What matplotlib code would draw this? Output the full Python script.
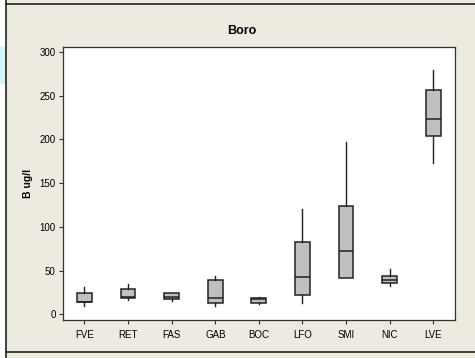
import matplotlib
matplotlib.use("Agg")
import matplotlib.pyplot as plt
from matplotlib.patches import Rectangle
from matplotlib.lines import Line2D

plt.rcParams['font.family'] = ['Liberation Sans', 'DejaVu Sans']

categories = ["FVE", "RET", "FAS", "GAB", "BOC", "LFO", "SMI", "NIC", "LVE"]
whislo = [9.5, 16.0, 14.9, 9.5, 11.4, 13.3, 42.0, 32.3, 173.3]
q1 = [13.7, 19.0, 17.9, 12.6, 12.6, 22.0, 42.0, 35.4, 203.8]
med = [14.5, 20.0, 20.0, 18.3, 17.5, 42.3, 72.3, 39.2, 222.9]
q3 = [24.0, 28.6, 24.0, 39.2, 18.3, 82.3, 123.4, 43.8, 256.0]
whishi = [31.0, 34.6, 24.5, 43.8, 19.4, 120.0, 197.0, 51.4, 279.2]
yticks = [0, 50, 100, 150, 200, 250, 300]

W, H = 475, 358
bg = '#EDEAE0'
fig = plt.figure(figsize=(W / 100, H / 100), dpi=100)
fig.patch.set_facecolor(bg)

# left strip and outer frame
fig.patches.append(Rectangle((0, 0), 6 / W, 1, transform=fig.transFigure,
                             facecolor='white', edgecolor='none'))
fig.patches.append(Rectangle((0, 1 - 84 / H), 6 / W, 38 / H, transform=fig.transFigure,
                             facecolor='#CFF6F8', edgecolor='none'))
fig.lines.append(Line2D([6 / W, 6 / W], [0, 1], transform=fig.transFigure,
                        color='#222222', lw=1.2))
fig.lines.append(Line2D([6 / W, 1], [1 - 4 / H, 1 - 4 / H], transform=fig.transFigure,
                        color='#222222', lw=1.2))
fig.lines.append(Line2D([6 / W, 1], [1 - 352 / H, 1 - 352 / H], transform=fig.transFigure,
                        color='#222222', lw=1.2))

left, right, top, bottom = 62.7, 455, 47.3, 320
ax = fig.add_axes([left / W, 1 - bottom / H, (right - left) / W, (bottom - top) / H])
ax.set_facecolor('white')

stats = []
for i, c in enumerate(categories):
    stats.append(dict(label=c, whislo=whislo[i], q1=q1[i], med=med[i],
                      q3=q3[i], whishi=whishi[i], fliers=[]))

ax.bxp(stats, positions=range(1, len(categories) + 1), widths=0.34,
       patch_artist=True, showcaps=False,
       boxprops=dict(facecolor='#C0C0C0', edgecolor='#222222', linewidth=1.1),
       medianprops=dict(color='#222222', linewidth=1.1),
       whiskerprops=dict(color='#222222', linewidth=1.0))

ax.set_xlim(0.5, 9.5)
ax.set_ylim(-6.5, 305.1)
ax.set_yticks(yticks)
ax.set_xticks(range(1, len(categories) + 1))
ax.set_xticklabels(categories)
ax.tick_params(axis='both', labelsize=7, length=3, width=0.8, color='#333333',
               pad=2, direction='out')
ax.tick_params(axis='x', pad=4)
for s in ax.spines.values():
    s.set_color('#333333')
    s.set_linewidth(0.9)

fig.text(242 / W, 1 - 34 / H, "Boro", fontsize=9, fontweight='bold',
         ha='center', va='baseline')
ax.set_ylabel("B ug/l", fontsize=7.5, fontweight='bold', labelpad=5)

fig.savefig("out.png", dpi=100, facecolor=bg)
